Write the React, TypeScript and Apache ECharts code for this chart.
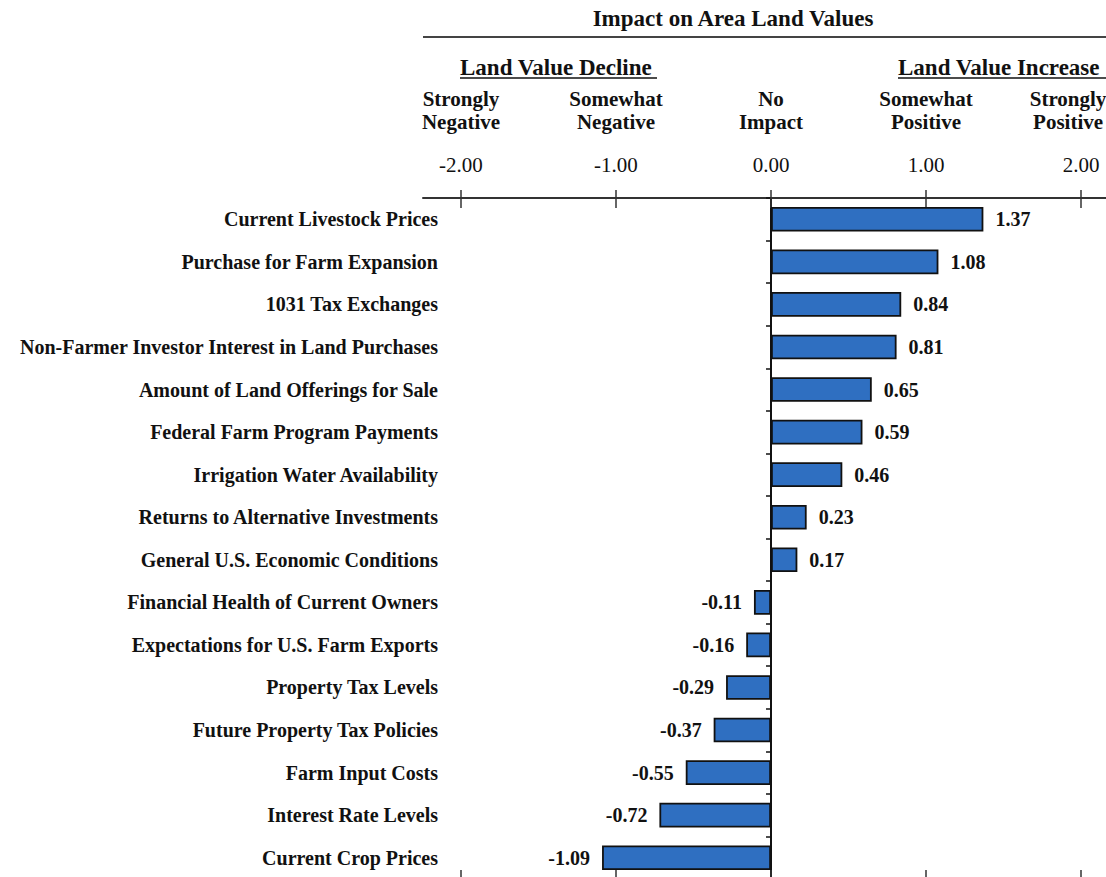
import React, { useEffect, useRef } from "react";
import * as echarts from "echarts";

const categories = [
  "Current Livestock Prices",
  "Purchase for Farm Expansion",
  "1031 Tax Exchanges",
  "Non-Farmer Investor Interest in Land Purchases",
  "Amount of Land Offerings for Sale",
  "Federal Farm Program Payments",
  "Irrigation Water Availability",
  "Returns to Alternative Investments",
  "General U.S. Economic Conditions",
  "Financial Health of Current Owners",
  "Expectations for U.S. Farm Exports",
  "Property Tax Levels",
  "Future Property Tax Policies",
  "Farm Input Costs",
  "Interest Rate Levels",
  "Current Crop Prices",
];
const values = [1.37, 1.08, 0.84, 0.81, 0.65, 0.59, 0.46, 0.23, 0.17, -0.11, -0.16, -0.29, -0.37, -0.55, -0.72, -1.09];
const tickValues = [-2, -1, 0, 1, 2];
const tickHeaders: Record<string, string[]> = {
  "-2": ["Strongly", "Negative"],
  "-1": ["Somewhat", "Negative"],
  "0": ["No", "Impact"],
  "1": ["Somewhat", "Positive"],
  "2": ["Strongly", "Positive"],
};
const title = "Impact on Area Land Values";
const declineLabel = "Land Value Decline";
const increaseLabel = "Land Value Increase";

const SERIF = "'Liberation Serif', 'Times New Roman', serif";

export default function App() {
  const ref = useRef<HTMLDivElement>(null);
  useEffect(() => {
    document.body.style.margin = "0";
    const chart = echarts.init(ref.current!, null, { renderer: "svg" });
    const xMin = -2.245;
    const xMax = 2.161;
    const option: any = {
      animation: false,
      backgroundColor: "#ffffff",
      textStyle: { fontFamily: SERIF },
      grid: { left: 423, right: 0, top: 198, bottom: -2, containLabel: false, outerBoundsMode: "none" },
      xAxis: [
        {
          type: "value",
          position: "top",
          min: xMin,
          max: xMax,
          splitLine: { show: false },
          axisLine: { show: true, onZero: false, lineStyle: { color: "#333", width: 2 } },
          axisTick: { show: true, customValues: tickValues, length: 8, lineStyle: { color: "#333", width: 1.5 } },
          axisLabel: {
            customValues: tickValues,
            margin: 22,
            fontFamily: SERIF,
            color: "#111",
            formatter: (v: number) => {
              const h = tickHeaders[String(Math.round(v))] || ["", ""];
              const hs = v > 1.5 ? "hr" : "h";
              return `{${hs}|${h[0]}}\n{${hs}|${h[1]}}\n{s|}\n{v|${v.toFixed(2)}}`;
            },
            rich: {
              h: { fontFamily: SERIF, fontWeight: "bold", fontSize: 21, lineHeight: 23, color: "#111", align: "center" },
              hr: { fontFamily: SERIF, fontWeight: "bold", fontSize: 21, lineHeight: 23, color: "#111", align: "center", padding: [0, 26, 0, 0] },
              s: { lineHeight: 20, fontSize: 10 },
              v: { fontFamily: SERIF, fontSize: 21, lineHeight: 23, color: "#111", align: "center" },
            },
          },
        },
        {
          type: "value",
          position: "top",
          min: xMin,
          max: xMax,
          splitLine: { show: false },
          axisLine: { show: false, onZero: false },
          axisTick: { show: true, inside: true, customValues: tickValues, length: 10, lineStyle: { color: "#333", width: 1.5 } },
          axisLabel: { show: false },
        },
        {
          type: "value",
          position: "bottom",
          min: xMin,
          max: xMax,
          splitLine: { show: false },
          axisLine: { show: true, onZero: false, lineStyle: { color: "#333", width: 2 } },
          axisTick: { show: true, inside: true, customValues: tickValues, length: 9, lineStyle: { color: "#333", width: 1.5 } },
          axisLabel: { show: false },
        },
      ],
      yAxis: [
        {
          type: "category",
          data: categories,
          inverse: true,
          position: "left",
          axisLine: { show: false, onZero: false },
          axisTick: { show: false },
          axisLabel: {
            margin: -15,
            fontFamily: SERIF,
            fontWeight: "bold",
            fontSize: 20,
            color: "#111",
          },
        },
        {
          type: "category",
          data: categories,
          inverse: true,
          position: "left",
          axisLine: { show: true, onZero: true, onZeroAxisIndex: 0, lineStyle: { color: "#111", width: 2 } },
          axisTick: { show: true, length: 5, lineStyle: { color: "#111", width: 1.5 } },
          axisLabel: { show: false },
        },
      ],
      series: [
        {
          type: "bar",
          xAxisIndex: 0,
          yAxisIndex: 0,
          barWidth: "58%",
          itemStyle: { color: "#2f6fc1", borderColor: "#111", borderWidth: 1.8 },
          label: {
            show: true,
            distance: 12,
            fontFamily: SERIF,
            fontWeight: "bold",
            fontSize: 20,
            color: "#111",
            formatter: (p: any) => Number(p.value).toFixed(2),
          },
          data: values.map((v) => ({
            value: v,
            label: { position: v < 0 ? "left" : "right" },
          })),
        },
      ],
      graphic: [
        {
          type: "text",
          x: 733,
          y: 18,
          style: { text: title, font: `bold 23px ${SERIF}`, fill: "#111", align: "center", verticalAlign: "middle" },
        },
        {
          type: "line",
          shape: { x1: 423, y1: 37, x2: 1106, y2: 37 },
          style: { stroke: "#444", lineWidth: 2 },
        },
        {
          type: "text",
          x: 460,
          y: 67,
          style: { text: declineLabel, font: `bold 23px ${SERIF}`, fill: "#111", align: "left", verticalAlign: "middle" },
        },
        {
          type: "line",
          shape: { x1: 460, y1: 78, x2: 657, y2: 78 },
          style: { stroke: "#111", lineWidth: 1.5 },
        },
        {
          type: "text",
          x: 898,
          y: 67,
          style: { text: increaseLabel, font: `bold 23px ${SERIF}`, fill: "#111", align: "left", verticalAlign: "middle" },
        },
        {
          type: "line",
          shape: { x1: 898, y1: 78, x2: 1106, y2: 78 },
          style: { stroke: "#111", lineWidth: 1.5 },
        },
      ],
    };
    chart.setOption(option);
    return () => chart.dispose();
  }, []);
  return <div ref={ref} style={{ width: 1106, height: 877 }} />;
}
